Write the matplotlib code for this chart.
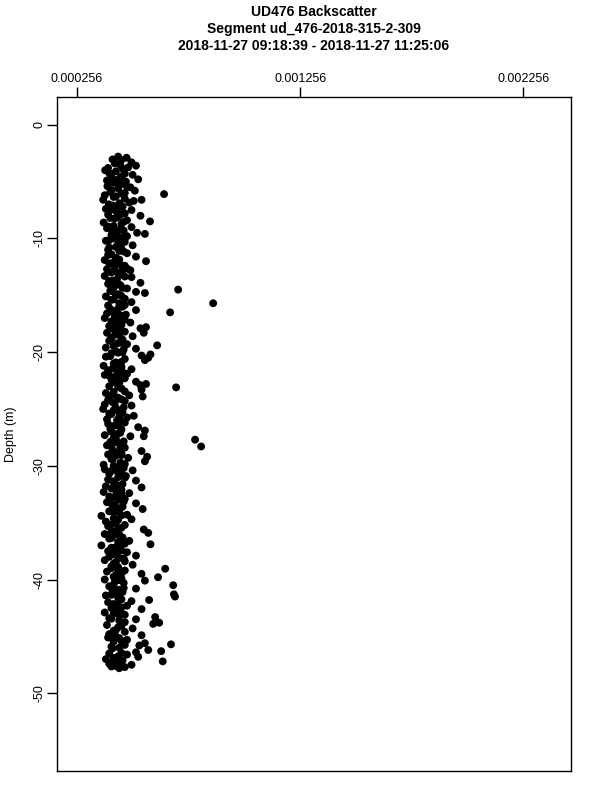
import numpy as np
import matplotlib.pyplot as plt

plt.rcParams['font.family'] = ['Liberation Sans', 'DejaVu Sans']

TITLE = ['UD476 Backscatter',
         'Segment ud_476-2018-315-2-309',
         '2018-11-27 09:18:39 - 2018-11-27 11:25:06']

x_ticks = [0.000256, 0.001256, 0.002256]
y_ticks = [0, -10, -20, -30, -40, -50]

# depth (m), read per 1 m band
depth = [
    -2.8, -2.9, -3.1, -3.3, -3.4, -3.6, -3.8, -3.9,
    -4.0, -4.1, -4.3, -4.4, -4.6, -4.7, -4.8, -4.9, -5.0,
    -5.1, -5.2, -5.4, -5.5, -5.6, -5.8, -5.9, -6.0, -6.1,
    -6.2, -6.3, -6.5, -6.6, -6.7, -6.9, -7.0, -6.6,
    -7.1, -7.2, -7.4, -7.5, -7.6, -7.8, -7.9, -8.0,
    -8.1, -8.2, -8.4, -8.5, -8.6, -8.7, -8.9, -9.0,
    -9.1, -9.3, -9.4, -9.5, -9.7, -9.8, -9.9, -9.6,
    -10.0, -10.2, -10.3, -10.5, -10.6, -10.8, -10.9,
    -11.0, -11.1, -11.3, -11.4, -11.6, -11.7, -11.9, -12.0,
    -12.1, -12.2, -12.4, -12.5, -12.7, -12.8, -12.9,
    -13.0, -13.2, -13.3, -13.4, -13.6, -13.7, -13.9,
    -14.0, -14.1, -14.3, -14.4, -14.6, -14.7, -14.9, -14.5, -14.8,
    -15.0, -15.1, -15.3, -15.4, -15.6, -15.7, -15.9, -15.7,
    -16.0, -16.2, -16.3, -16.4, -16.6, -16.7, -16.9, -16.5,
    -17.0, -17.1, -17.3, -17.4, -17.6, -17.7, -17.9, -17.8,
    -18.0, -18.2, -18.3, -18.5, -18.6, -18.7, -18.9, -18.3,
    -19.0, -19.2, -19.3, -19.4, -19.6, -19.7, -19.9,
    -20.0, -20.1, -20.3, -20.4, -20.6, -20.7, -20.9, -20.2, -20.5,
    -21.0, -21.2, -21.3, -21.5, -21.6, -21.8, -21.9,
    -22.0, -22.1, -22.3, -22.4, -22.6, -22.7, -22.9, -22.8, -23.1,
    -23.0, -23.2, -23.3, -23.5, -23.6, -23.8, -23.9,
    -24.0, -24.2, -24.3, -24.4, -24.6, -24.7, -24.9,
    -25.0, -25.1, -25.3, -25.4, -25.6, -25.7, -25.9,
    -26.0, -26.2, -26.3, -26.5, -26.6, -26.8, -26.9,
    -27.0, -27.1, -27.3, -27.4, -27.6, -27.7, -27.9, -27.4,
    -28.0, -28.2, -28.3, -28.4, -28.6, -28.7, -28.9,
    -29.0, -29.1, -29.3, -29.4, -29.6, -29.7, -29.9, -29.2,
    -30.0, -30.2, -30.3, -30.4, -30.6, -30.7, -30.9,
    -31.0, -31.2, -31.3, -31.5, -31.6, -31.8, -31.9,
    -32.0, -32.1, -32.3, -32.4, -32.6, -32.7, -32.9,
    -33.0, -33.2, -33.3, -33.5, -33.6, -33.8, -33.9,
    -34.0, -34.1, -34.3, -34.4, -34.6, -34.7, -34.9,
    -35.0, -35.2, -35.3, -35.5, -35.6, -35.8, -35.9,
    -36.0, -36.1, -36.3, -36.4, -36.6, -36.7, -36.9,
    -37.0, -37.2, -37.3, -37.5, -37.6, -37.8, -37.9,
    -38.0, -38.1, -38.3, -38.4, -38.6, -38.7, -38.9, -39.05,
    -39.0, -39.2, -39.3, -39.5, -39.6, -39.8, -39.9,
    -40.0, -40.2, -40.3, -40.5, -40.6, -40.8, -40.9, -40.1,
    -41.0, -41.1, -41.3, -41.4, -41.6, -41.8, -41.9, -41.5,
    -42.0, -42.2, -42.3, -42.5, -42.6, -42.8, -42.9,
    -43.0, -43.1, -43.3, -43.4, -43.6, -43.8, -43.9, -43.5,
    -44.0, -44.2, -44.3, -44.5, -44.6, -44.8, -44.9,
    -45.0, -45.1, -45.3, -45.4, -45.6, -45.7, -45.9, -45.8,
    -46.0, -46.2, -46.3, -46.5, -46.6, -46.8, -46.9, -46.4,
    -47.0, -47.1, -47.2, -47.4, -47.5, -47.6, -47.7, -47.8,
    # second pass, filling the core of the column
    -3.05, -3.55, -3.75, -4.25, -4.55, -4.85, -5.25, -5.45, -5.75,
    -6.05, -6.35, -6.85, -7.25, -7.45, -7.85, -8.25, -8.55, -8.95,
    -9.25, -9.45, -9.85, -10.15, -10.45, -10.75, -11.15, -11.45, -11.85,
    -12.15, -12.35, -12.65, -13.05, -13.35, -13.75, -14.15, -14.35, -14.65,
    -15.05, -15.35, -15.85, -16.15, -16.45, -16.75, -17.15, -17.35, -17.65,
    -18.05, -18.45, -18.85, -19.15, -19.45, -19.75, -20.05, -20.35, -20.85,
    -21.15, -21.45, -21.75, -22.05, -22.35, -22.65, -23.05, -23.45, -23.75,
    -24.15, -24.45, -24.85, -25.15, -25.45, -25.75, -26.05, -26.45, -26.75,
    -27.15, -27.55, -27.85, -28.15, -28.45, -28.85, -29.05, -29.45, -29.85,
    -30.15, -30.45, -30.75, -31.05, -31.35, -31.75, -32.15, -32.45, -32.85,
    -33.15, -33.45, -33.75, -34.05, -34.35, -34.75, -35.15, -35.45, -35.75,
    -36.05, -36.35, -36.85, -37.15, -37.45, -37.75, -38.15, -38.45, -38.85,
    -39.15, -39.45, -39.75, -40.05, -40.45, -40.75, -41.05, -41.35, -41.75,
    -42.15, -42.45, -42.75, -43.15, -43.45, -43.75, -44.05, -44.45, -44.75,
    -45.15, -45.45, -45.75, -46.05, -46.45, -46.75, -47.05, -47.35, -47.65,
]

# backscatter, in 1e-6 units
backscatter = [
    440, 478, 455, 500, 425, 520, 395, 462,
    382, 430, 470, 505, 410, 448, 530, 390, 475,
    420, 460, 392, 495, 440, 515, 405, 470, 646,
    380, 430, 470, 373, 510, 445, 398, 545,
    415, 460, 385, 500, 430, 470, 395, 540,
    440, 405, 480, 583, 375, 455, 420, 500,
    390, 465, 430, 525, 410, 480, 445, 560,
    420, 385, 470, 440, 505, 400, 455,
    395, 445, 480, 410, 520, 430, 380, 565,
    440, 400, 470, 425, 390, 495, 455,
    410, 460, 380, 500, 435, 415, 540,
    395, 450, 420, 480, 405, 520, 440, 709, 560,
    430, 385, 470, 410, 500, 445, 395, 866,
    460, 405, 520, 435, 390, 475, 425, 673,
    380, 440, 410, 495, 455, 400, 540, 565,
    420, 470, 390, 445, 505, 410, 460, 555,
    400, 440, 480, 615, 385, 520, 430,
    460, 410, 545, 385, 470, 560, 430, 585, 575,
    420, 375, 455, 500, 395, 440, 480,
    380, 430, 470, 410, 520, 445, 540, 565, 700,
    400, 455, 545, 420, 385, 490, 550,
    440, 395, 470, 415, 380, 500, 430,
    373, 420, 460, 400, 510, 445, 390,
    435, 470, 395, 420, 530, 455, 560,
    410, 450, 380, 495, 430, 785, 405, 555,
    440, 390, 812, 470, 415, 545, 455,
    395, 430, 485, 410, 560, 450, 375, 570,
    420, 465, 380, 505, 440, 400, 475,
    440, 395, 520, 425, 460, 385, 545,
    410, 455, 375, 490, 430, 400, 470,
    440, 390, 520, 415, 460, 550, 425,
    400, 445, 480, 365, 420, 500, 385,
    430, 470, 395, 440, 555, 410, 575,
    380, 420, 460, 400, 490, 440, 585,
    365, 410, 450, 395, 480, 430, 520,
    400, 445, 380, 470, 420, 505, 440, 651,
    410, 470, 390, 545, 430, 619, 455,
    380, 425, 465, 687, 400, 520, 445, 560,
    415, 460, 690, 385, 440, 579, 500, 695,
    395, 435, 480, 410, 545, 450, 380,
    420, 470, 606, 400, 445, 624, 597, 520,
    390, 440, 505, 420, 470, 400, 545,
    430, 395, 480, 455, 560, 677, 410, 535,
    445, 575, 633, 400, 480, 530, 420, 520,
    385, 460, 640, 400, 500, 430, 470, 445,
    # second pass
    415, 450, 485, 400, 455, 425, 445, 480, 410,
    455, 420, 490, 440, 405, 455, 425, 465, 395,
    445, 415, 470, 400, 455, 430, 465, 395, 445,
    415, 455, 480, 440, 470, 400, 425, 460, 415,
    455, 420, 470, 440, 415, 450, 470, 425, 430,
    445, 430, 410, 455, 420, 465, 440, 405, 455,
    440, 415, 460, 400, 455, 425, 440, 470, 415,
    455, 425, 465, 440, 410, 480, 450, 440, 405,
    440, 420, 465, 410, 450, 430, 455, 415, 470,
    440, 410, 455, 470, 415, 440, 430, 455, 410,
    465, 425, 445, 420, 455, 440, 410, 455, 430,
    445, 410, 470, 430, 455, 420, 465, 430, 410,
    440, 455, 420, 445, 420, 465, 435, 410, 455,
    420, 455, 430, 445, 410, 470, 455, 430, 415,
    445, 420, 470, 415, 455, 440, 420, 445, 410,
]

x = np.array(backscatter) * 1e-6
y = np.array(depth)

fig = plt.figure(figsize=(6, 8), dpi=100)
ax = fig.add_axes([0.095, 0.036, 0.857, 0.843])

ax.scatter(x, y, s=32, c='black', edgecolors='none')

ax.set_xlim(0.000166, 0.002471)
ax.set_ylim(-56.86, 2.46)

ax.xaxis.tick_top()
ax.set_xticks(x_ticks)
ax.set_xticklabels(['%.6f' % v for v in x_ticks], fontsize=9)
ax.set_yticks(y_ticks)
ax.set_yticklabels([str(v) for v in y_ticks], fontsize=9, rotation=90, va='center')
ax.tick_params(axis='both', length=7, width=1, direction='out', pad=1.5)
ax.set_ylabel('Depth (m)', fontsize=9, labelpad=12)
for sp in ax.spines.values():
    sp.set_linewidth(1)

for i, line in enumerate(TITLE):
    fig.text(0.523, 0.985 - i * 0.0212, line, ha='center', va='center',
             fontsize=10, fontweight='bold')

fig.savefig('out.png', dpi=100)
